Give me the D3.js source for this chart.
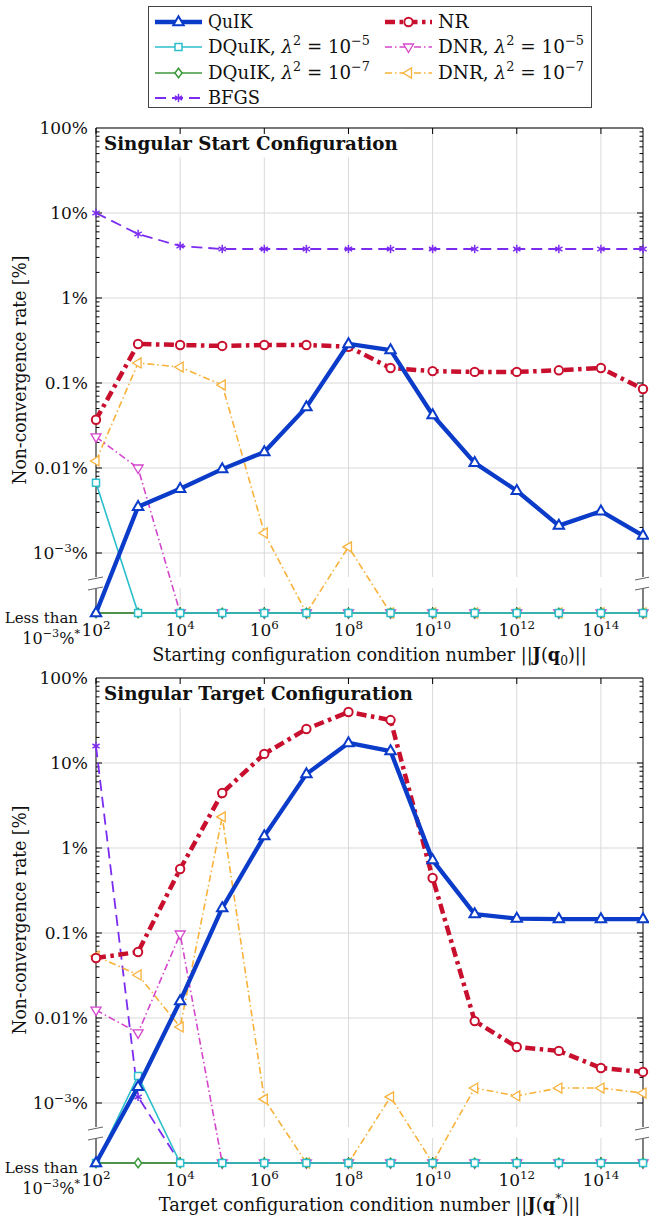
<!DOCTYPE html>
<html><head><meta charset="utf-8">
<script src="https://cdn.jsdelivr.net/npm/d3@7"></script>
<style>body{margin:0;background:#fff}text{font-family:"DejaVu Serif","Liberation Serif",serif;fill:#111}</style>
</head><body><svg id="c" width="649" height="1220"></svg>
<script>
// ---------- data ----------
const exponents = [2,3,4,5,6,7,8,9,10,11,12,13,14,15];
const xTickExps = [2,4,6,8,10,12,14];
const yTickValues = [100,10,1,0.1,0.01,0.001];
const yTickLabels = ["100%","10%","1%","0.1%","0.01%","10^-3%"];
const seriesNames = ["QuIK","NR","DQuIK5","DNR5","DQuIK7","DNR7","BFGS"];
// 0 means "Less than 10^-3 %"
const startQuIK  = [0, 0.0035, 0.0057, 0.0097, 0.0154, 0.052, 0.288, 0.244, 0.042, 0.0115, 0.0054, 0.0021, 0.0031, 0.0016];
const startNR    = [0.037, 0.288, 0.28, 0.273, 0.28, 0.28, 0.267, 0.15, 0.138, 0.135, 0.135, 0.141, 0.15, 0.085];
const startDQ5   = [0.0067, 0, 0, 0, 0, 0, 0, 0, 0, 0, 0, 0, 0, 0];
const startDQ7   = [0, 0, 0, 0, 0, 0, 0, 0, 0, 0, 0, 0, 0, 0];
const startDNR5  = [0.0232, 0.01, 0, 0, 0, 0, 0, 0, 0, 0, 0, 0, 0, 0];
const startDNR7  = [0.0121, 0.172, 0.154, 0.0947, 0.00172, 0, 0.00118, 0, 0, 0, 0, 0, 0, 0];
const startBFGS  = [10, 5.66, 4.09, 3.77, 3.77, 3.77, 3.77, 3.77, 3.77, 3.77, 3.77, 3.77, 3.77, 3.77];

const targetQuIK = [0, 0.00155, 0.0158, 0.197, 1.38, 7.4, 17.2, 13.8, 0.72, 0.167, 0.148, 0.146, 0.146, 0.146];
const targetNR   = [0.0508, 0.0598, 0.566, 4.44, 12.8, 25.1, 39.8, 32, 0.444, 0.0092, 0.00456, 0.0041, 0.00258, 0.00232];
const targetDQ5  = [0, 0.00208, 0, 0, 0, 0, 0, 0, 0, 0, 0, 0, 0, 0];
const targetDQ7  = [0, 0, 0, 0, 0, 0, 0, 0, 0, 0, 0, 0, 0, 0];
const targetDNR5 = [0.0124, 0.00667, 0.0973, 0, 0, 0, 0, 0, 0, 0, 0, 0, 0, 0];
const targetDNR7 = [0.0536, 0.0321, 0.00784, 2.32, 0.00111, 0, 0, 0.00118, 0, 0.0015, 0.00121, 0.0015, 0.0015, 0.00131];
const targetBFGS = [15.8, 0.00118, 0, 0, 0, 0, 0, 0, 0, 0, 0, 0, 0, 0];

// ---------- styles ----------
const styles = {
  QuIK:  {color:"#0b3bc9", w:4.3, dash:null,          marker:"tri",     ms:2},
  NR:    {color:"#c8102e", w:4.5, dash:"10,4.5,3.5,4.5", marker:"circle", ms:2},
  DQuIK5:{color:"#2bbfcc", w:1.6, dash:null,          marker:"square",  ms:1.5},
  DNR5:  {color:"#d445cc", w:1.6, dash:"7,3,1.5,3",   marker:"tridown", ms:1.3},
  DQuIK7:{color:"#3c9a3c", w:1.6, dash:null,          marker:"diamond", ms:1.5},
  DNR7:  {color:"#f8b23a", w:1.6, dash:"7,3,1.5,3",   marker:"trileft", ms:1.3},
  BFGS:  {color:"#7c2cf0", w:1.8, dash:"11,6",        marker:"star",    ms:1.5}
};
const drawOrder = ["BFGS","DNR7","DNR5","DQuIK7","DQuIK5","NR","QuIK"];

const svg = d3.select("#c");
const X0 = 96, X1 = 643;
const x = d3.scaleLog().domain([1e2,1e15]).range([X0,X1]);

function rich(sel, parts, fs){
  let cur = 0;
  parts.forEach(p=>{
    const t = sel.append("tspan").text(p.t);
    if(p.b) t.attr("font-weight","bold");
    if(p.i) t.attr("font-style","italic");
    let target = 0;
    if(p.sup){ t.attr("font-size", fs*0.7); target = -fs*0.42; }
    if(p.sub){ t.attr("font-size", fs*0.7); target = fs*0.22; }
    if(target!==cur){ t.attr("dy", target-cur); cur = target; }
  });
  return sel;
}
function fitX(sel, x0, w){
  const bw = sel.node().getBBox().width;
  const s = w/bw;
  sel.attr("transform", `translate(${x0},0) scale(${s},1) translate(${-x0},0)`);
}
function marker(g, type, cx, cy, color, sw){
  let el;
  const pts = a => a.map(p=>[cx+p[0],cy+p[1]].join(",")).join(" ");
  if(type==="tri") el = g.append("polygon").attr("points", pts([[0,-5.8],[5.2,3.2],[-5.2,3.2]]));
  else if(type==="circle") el = g.append("circle").attr("cx",cx).attr("cy",cy).attr("r",4.2);
  else if(type==="square") el = g.append("rect").attr("x",cx-3.5).attr("y",cy-3.5).attr("width",7).attr("height",7);
  else if(type==="diamond") el = g.append("polygon").attr("points", pts([[0,-4.8],[3.6,0],[0,4.8],[-3.6,0]]));
  else if(type==="tridown") el = g.append("polygon").attr("points", pts([[0,5.5],[5,-3],[-5,-3]]));
  else if(type==="trileft") el = g.append("polygon").attr("points", pts([[-5.5,0],[3,-5],[3,5]]));
  else if(type==="star"){
    const s = g.append("g").attr("stroke",color).attr("stroke-width",sw);
    for(let k=0;k<3;k++){
      const a = Math.PI/2 + k*Math.PI/3, r=4.2;
      s.append("line").attr("x1",cx+r*Math.cos(a)).attr("y1",cy+r*Math.sin(a))
        .attr("x2",cx-r*Math.cos(a)).attr("y2",cy-r*Math.sin(a));
    }
    return;
  }
  el.attr("fill","#fff").attr("stroke",color).attr("stroke-width",sw);
}

function panel(off, data, title, titleW, xTitleParts, xTitleW){
  const g = svg.append("g");
  const yTop = 128+off, yBA = 577+off, yBB = 588+off, yBase = 613+off;
  const y = d3.scaleLog().domain([1e-3,100]).range([553+off,128+off]);
  const Y = v => v>0 ? y(v) : yBase;
  const grid = "#d9d9d9";
  yTickValues.forEach(v=>{
    g.append("line").attr("x1",X0).attr("x2",X1).attr("y1",y(v)).attr("y2",y(v)).attr("stroke",grid).attr("stroke-width",1);
  });
  xTickExps.slice(1).forEach(e=>{
    const xx = x(Math.pow(10,e));
    [[yTop,yBA],[yBB,yBase]].forEach(s=>g.append("line").attr("x1",xx).attr("x2",xx).attr("y1",s[0]).attr("y2",s[1]).attr("stroke",grid));
  });
  const tt = g.append("text").attr("x",104).attr("y",yTop+22).attr("font-size",18).attr("font-weight","bold").text(title);
  fitX(tt,104,titleW);
  g.insert("rect", "text").attr("x",X0+0.5).attr("y",yTop+0.5).attr("width",titleW+14).attr("height",29).attr("fill","#fff");
  const ax = g.append("g").attr("stroke","#000").attr("stroke-width",1);
  [X0,X1].forEach(xx=>{
    ax.append("line").attr("x1",xx).attr("x2",xx).attr("y1",yTop).attr("y2",yBA);
    ax.append("line").attr("x1",xx).attr("x2",xx).attr("y1",yBB).attr("y2",yBase);
  });
  ax.append("line").attr("x1",X0).attr("x2",X1).attr("y1",yTop).attr("y2",yTop);
  ax.append("line").attr("x1",X0).attr("x2",X1).attr("y1",yBase).attr("y2",yBase);
  for(let d=-3; d<2; d++){
    for(let m=1;m<=9;m++){
      const v = m*Math.pow(10,d);
      const yy = y(v), len = m===1?6:3.5;
      ax.append("line").attr("x1",X0).attr("x2",X0+len).attr("y1",yy).attr("y2",yy);
      ax.append("line").attr("x1",X1).attr("x2",X1-len).attr("y1",yy).attr("y2",yy);
    }
  }
  xTickExps.forEach(e=>{
    const xx = x(Math.pow(10,e));
    ax.append("line").attr("x1",xx).attr("x2",xx).attr("y1",yTop).attr("y2",yTop+6);
    ax.append("line").attr("x1",xx).attr("x2",xx).attr("y1",yBase).attr("y2",yBase-6);
  });
  const br = g.append("g").attr("stroke","#666").attr("stroke-width",1);
  [X0,X1].forEach(xx=>{
    br.append("line").attr("x1",xx-8).attr("y1",yBA+3).attr("x2",xx+7).attr("y2",yBA);
    br.append("line").attr("x1",xx-8).attr("y1",yBB+2).attr("x2",xx+7).attr("y2",yBB-1);
  });
  yTickValues.forEach((v,i)=>{
    const t = g.append("text").attr("x",88).attr("y",y(v)+6).attr("text-anchor","end").attr("font-size",17);
    const lab = yTickLabels[i];
    if(lab.startsWith("10^")) rich(t,[{t:"10"},{t:"−3",sup:true},{t:"%"}],17);
    else t.text(lab);
  });
  g.append("text").attr("x",78).attr("y",yBase+10).attr("text-anchor","end").attr("font-size",15).text("Less than");
  rich(g.append("text").attr("x",80).attr("y",yBase+31).attr("text-anchor","end").attr("font-size",16),
       [{t:"10"},{t:"−3",sup:true},{t:"%"},{t:"*",sup:true}],16);
  xTickExps.forEach(e=>{
    rich(g.append("text").attr("x",x(Math.pow(10,e))).attr("y",yBase+23).attr("text-anchor","middle").attr("font-size",17),
      [{t:"10"},{t:String(e),sup:true}],17);
  });
  const xt = rich(g.append("text").attr("x",369.5).attr("y",yBase+48).attr("text-anchor","middle").attr("font-size",18), xTitleParts, 18);
  fitX(xt,369.5,xTitleW);
  g.append("text").attr("transform",`translate(26,${370+off}) rotate(-90)`).attr("text-anchor","middle")
    .attr("font-size",18).attr("textLength",229).attr("lengthAdjust","spacingAndGlyphs").text("Non-convergence rate [%]");
  drawOrder.forEach(name=>{
    const st = styles[name], vals = data[name];
    const line = d3.line().x((d,i)=>x(Math.pow(10,exponents[i]))).y(d=>Y(d));
    g.append("path").attr("d",line(vals)).attr("fill","none").attr("stroke",st.color)
      .attr("stroke-width",st.w).attr("stroke-dasharray",st.dash).attr("stroke-linejoin","round");
    const mg = g.append("g");
    vals.forEach((v,i)=>marker(mg, st.marker, x(Math.pow(10,exponents[i])), Y(v), st.color, st.ms));
  });
}

panel(0, {QuIK:startQuIK,NR:startNR,DQuIK5:startDQ5,DQuIK7:startDQ7,DNR5:startDNR5,DNR7:startDNR7,BFGS:startBFGS},
  "Singular Start Configuration", 294,
  [{t:"Starting configuration condition number ||"},{t:"J",b:true},{t:"("},{t:"q",b:true},{t:"0",sub:true},{t:")||"}], 435);
panel(550, {QuIK:targetQuIK,NR:targetNR,DQuIK5:targetDQ5,DQuIK7:targetDQ7,DNR5:targetDNR5,DNR7:targetDNR7,BFGS:targetBFGS},
  "Singular Target Configuration", 309,
  [{t:"Target configuration condition number ||"},{t:"J",b:true},{t:"("},{t:"q",b:true},{t:"*",sup:true},{t:")||"}], 422);

// ---------- legend ----------
const lg = svg.append("g");
lg.append("rect").attr("x",148.5).attr("y",6.5).attr("width",443).attr("height",101).attr("fill","#fff").attr("stroke","#444").attr("stroke-width",1);
const lam = n => [{t:", "},{t:"λ",i:true},{t:"2",sup:true},{t:" = 10"},{t:"−"+n,sup:true}];
const legendItems = [
  {name:"QuIK",   col:0,row:0,parts:[{t:"QuIK"}], w:45},
  {name:"NR",     col:1,row:0,parts:[{t:"NR"}], w:31},
  {name:"DQuIK5", col:0,row:1,parts:[{t:"DQuIK"}].concat(lam(5)), w:162},
  {name:"DNR5",   col:1,row:1,parts:[{t:"DNR"}].concat(lam(5)), w:146},
  {name:"DQuIK7", col:0,row:2,parts:[{t:"DQuIK"}].concat(lam(7)), w:162},
  {name:"DNR7",   col:1,row:2,parts:[{t:"DNR"}].concat(lam(7)), w:146},
  {name:"BFGS",   col:0,row:3,parts:[{t:"BFGS"}], w:52}
];
const rowY = [22,47,73,98], colX = [155,385];
legendItems.forEach(it=>{
  const st = styles[it.name], x0 = colX[it.col], yy = rowY[it.row];
  lg.append("line").attr("x1",x0).attr("x2",x0+47).attr("y1",yy).attr("y2",yy).attr("stroke",st.color)
    .attr("stroke-width",st.w).attr("stroke-dasharray",st.dash);
  marker(lg, st.marker, x0+23.5, yy, st.color, st.ms);
  const t = rich(lg.append("text").attr("x",x0+53).attr("y",yy+6).attr("font-size",18), it.parts, 18);
  fitX(t, x0+53, it.w);
});
</script></body></html>
